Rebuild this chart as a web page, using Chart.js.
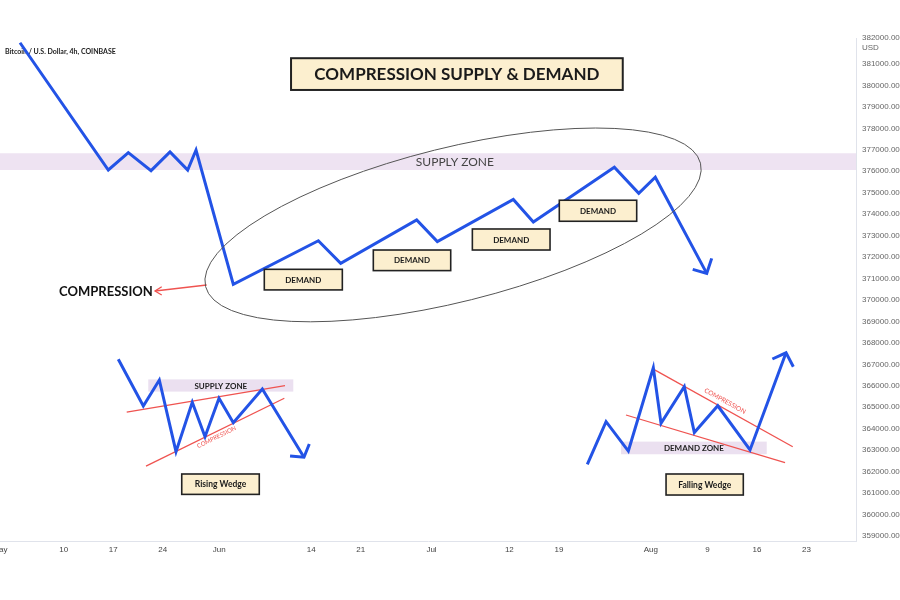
<!DOCTYPE html>
<html>
<head>
<meta charset="utf-8">
<style>
  html, body { margin: 0; padding: 0; background: #fff; overflow: hidden; }
  canvas { display: block; }
</style>
</head>
<body>
<canvas id="chart" width="900" height="600"></canvas>
<script src="https://cdn.jsdelivr.net/npm/chart.js"></script>
<script>
// x = days since 1 May, y = price
const xTickDays   = [0, 9, 16, 23, 31, 44, 51, 61, 72, 79, 92, 100, 107, 114];
const xTickLabels = ['May', '10', '17', '24', 'Jun', '14', '21', 'Jul', '12', '19', 'Aug', '9', '16', '23'];
const yTickValues = [359000, 360000, 361000, 362000, 363000, 364000, 365000, 366000, 367000, 368000, 369000, 370000,
  371000, 372000, 373000, 374000, 375000, 376000, 377000, 378000, 379000, 380000, 381000, 382000];

const mainDays   = [2.83, 15.31, 18.14, 21.35, 24.03, 26.53, 27.71, 32.98, 45.0, 48.16, 58.9, 61.82, 72.56, 75.39, 86.84, 90.29, 92.63, 99.9];
const mainPrices = [381990, 376060, 376870, 376030, 376900, 376060, 376990, 370730, 372760, 371710, 373730, 372720, 374690, 373640, 376190, 374970, 375720, 371240];
const mainHeadDays   = [97.92, 99.9, 100.6];
const mainHeadPrices = [371430, 371240, 371940];

const risingDays   = [16.72, 20.26, 22.52, 24.88, 27.18, 28.98, 30.96, 32.98, 37.08, 42.97];
const risingPrices = [367240, 365060, 366270, 362930, 365230, 363630, 365420, 364280, 365850, 362670];
const risingHeadDays   = [41.0, 42.97, 43.72];
const risingHeadPrices = [362730, 362670, 363290];
const risingUpperDays = [17.91, 40.29], risingUpperPrices = [364770, 366010];
const risingLowerDays = [20.64, 40.19], risingLowerPrices = [362260, 365420];

const fallingDays   = [83.02, 85.67, 88.82, 92.35, 93.44, 96.73, 98.15, 101.46, 106.02, 111.11];
const fallingPrices = [362340, 364330, 362960, 366840, 364250, 365960, 363820, 365070, 363010, 367540];
const fallingHeadDays   = [109.18, 111.11, 112.14];
const fallingHeadPrices = [367250, 367540, 366890];
const fallingUpperDays = [92.35, 112.06], fallingUpperPrices = [366780, 363160];
const fallingLowerDays = [88.49, 110.97], fallingLowerPrices = [364640, 362420];

const arrowDays   = [29.22, 21.91];
const arrowPrices = [370700, 370420];
const arrowHeadDays   = [22.86, 21.91, 22.86];
const arrowHeadPrices = [370620, 370420, 370230];

// zones: [day0, day1, priceTop, priceBottom, text]
const supplyZone  = [null, null, 376840, 376060, 'SUPPLY ZONE'];
const smallSupply = [20.96, 41.46, 366300, 365730, 'SUPPLY ZONE'];
const demandZone  = [87.79, 108.38, 363400, 362810, 'DEMAND ZONE'];

// label boxes: [day0, day1, priceTop, priceBottom, text]
const titleBox = [41.14, 88.03, 381270, 379790, 'COMPRESSION SUPPLY & DEMAND'];
const demandBoxes = [
  [37.36, 48.39, 371430, 370470, 'DEMAND'],
  [52.77, 63.71, 372330, 371370, 'DEMAND'],
  [66.77, 77.75, 373310, 372330, 'DEMAND'],
  [79.06, 90.0, 374650, 373670, 'DEMAND'],
];
const wedgeBoxes = [
  [25.69, 36.65, 361890, 360940, 'Rising Wedge'],
  [94.15, 105.07, 361890, 360910, 'Falling Wedge'],
];

// ellipse: center day, center price, radius in days, radius in price
const ellipseAt = [64.04, 373500, 36.05, 3589];

const pts = (xs, ys) => xs.map((x, i) => ({ x, y: ys[i] }));

const BLUE = '#2353e6', RED = '#ef5350';
const blue = (xs, ys) => ({ data: pts(xs, ys), borderColor: BLUE, borderWidth: 3, showLine: true, pointRadius: 0 });
const red = (xs, ys) => ({ data: pts(xs, ys), borderColor: RED, borderWidth: 1.3, showLine: true, pointRadius: 0 });

const drawings = {
  id: 'drawings',
  beforeDatasetsDraw(chart) {
    const { ctx, chartArea: a, scales: { x, y } } = chart;
    ctx.save();
    ctx.fillStyle = '#eee3f2';
    ctx.fillRect(a.left, y.getPixelForValue(supplyZone[2]), a.right - a.left,
      y.getPixelForValue(supplyZone[3]) - y.getPixelForValue(supplyZone[2]));
    ctx.fillStyle = '#444';
    ctx.font = '12px Lato';
    ctx.textAlign = 'center';
    ctx.textBaseline = 'middle';
    const sy = (y.getPixelForValue(supplyZone[2]) + y.getPixelForValue(supplyZone[3])) / 2;
    ctx.fillText(supplyZone[4], x.getPixelForValue(64.3), sy + 1);

    for (const z of [smallSupply, demandZone]) {
      const x0 = x.getPixelForValue(z[0]), x1 = x.getPixelForValue(z[1]);
      const y0 = y.getPixelForValue(z[2]), y1 = y.getPixelForValue(z[3]);
      ctx.fillStyle = '#ebe0f0';
      ctx.fillRect(x0, y0, x1 - x0, y1 - y0);
      ctx.fillStyle = '#222';
      ctx.font = 'bold 8px Lato';
      ctx.fillText(z[4], (x0 + x1) / 2, (y0 + y1) / 2 + 0.5);
    }

    ctx.textAlign = 'left';
    ctx.fillStyle = '#222';
    ctx.font = 'bold 7px Lato';
    ctx.fillText('Bitcoin / U.S. Dollar, 4h, COINBASE', a.left + 5, a.top + 14);
    ctx.restore();
  },
  afterDatasetsDraw(chart) {
    const { ctx, scales: { x, y } } = chart;
    ctx.save();
    // ellipse
    const cx = x.getPixelForValue(ellipseAt[0]), cy = y.getPixelForValue(ellipseAt[1]);
    const rx = x.getPixelForValue(ellipseAt[0] + ellipseAt[2]) - cx;
    const ry = cy - y.getPixelForValue(ellipseAt[1] + ellipseAt[3]);
    ctx.strokeStyle = '#555';
    ctx.lineWidth = 1;
    ctx.beginPath();
    ctx.ellipse(cx, cy, rx, ry, -14 * Math.PI / 180, 0, Math.PI * 2);
    ctx.stroke();

    const box = (b, font, lw) => {
      const x0 = x.getPixelForValue(b[0]), x1 = x.getPixelForValue(b[1]);
      const y0 = y.getPixelForValue(b[2]), y1 = y.getPixelForValue(b[3]);
      ctx.fillStyle = '#fcefcf';
      ctx.fillRect(x0, y0, x1 - x0, y1 - y0);
      ctx.strokeStyle = '#222';
      ctx.lineWidth = lw;
      ctx.strokeRect(x0, y0, x1 - x0, y1 - y0);
      ctx.fillStyle = '#1a1a1a';
      ctx.font = font;
      ctx.textAlign = 'center';
      ctx.textBaseline = 'middle';
      ctx.fillText(b[4], (x0 + x1) / 2, (y0 + y1) / 2 + 0.5);
    };
    box(titleBox, 'bold 17px Lato', 2);
    demandBoxes.forEach(b => box(b, 'bold 8px Lato', 1.6));
    wedgeBoxes.forEach(b => box(b, 'bold 8.5px Lato', 1.6));

    // labels
    ctx.fillStyle = '#111';
    ctx.font = 'bold 13px Lato';
    ctx.textAlign = 'center';
    ctx.textBaseline = 'middle';
    ctx.fillText('COMPRESSION', x.getPixelForValue(14.98), y.getPixelForValue(370373));

    const tilted = (day, price, lineDays, linePrices, size) => {
      const ang = Math.atan2(
        y.getPixelForValue(linePrices[1]) - y.getPixelForValue(linePrices[0]),
        x.getPixelForValue(lineDays[1]) - x.getPixelForValue(lineDays[0]));
      ctx.save();
      ctx.translate(x.getPixelForValue(day), y.getPixelForValue(price));
      ctx.rotate(ang);
      ctx.fillStyle = RED;
      ctx.font = size + 'px Lato';
      ctx.fillText('COMPRESSION', 0, 0);
      ctx.restore();
    };
    tilted(30.63, 363610, risingLowerDays, risingLowerPrices, 6);
    tilted(102.49, 365290, fallingUpperDays, fallingUpperPrices, 6.5);
    ctx.restore();
  }
};

new Chart(document.getElementById('chart'), {
  type: 'scatter',
  data: {
    datasets: [
      blue(mainDays, mainPrices),
      blue(mainHeadDays, mainHeadPrices),
      blue(risingDays, risingPrices),
      blue(risingHeadDays, risingHeadPrices),
      blue(fallingDays, fallingPrices),
      blue(fallingHeadDays, fallingHeadPrices),
      red(risingUpperDays, risingUpperPrices),
      red(risingLowerDays, risingLowerPrices),
      red(fallingUpperDays, fallingUpperPrices),
      red(fallingLowerDays, fallingLowerPrices),
      red(arrowDays, arrowPrices),
      red(arrowHeadDays, arrowHeadPrices),
    ],
  },
  options: {
    responsive: false,
    animation: false,
    devicePixelRatio: 1,
    layout: { padding: { top: 38, left: 0, right: 0, bottom: 0 } },
    plugins: { legend: { display: false }, tooltip: { enabled: false } },
    scales: {
      x: {
        type: 'linear',
        min: 0,
        max: 121,
        afterBuildTicks: s => { s.ticks = xTickDays.map(v => ({ value: v })); },
        afterFit: s => { s.height = 59; s.paddingLeft = 0; s.paddingRight = 0; },
        grid: { color: 'transparent', drawTicks: false },
        border: { color: '#e0e3eb' },
        ticks: {
          autoSkip: false,
          maxRotation: 0,
          padding: 4,
          color: '#444',
          font: { family: 'Liberation Sans', size: 8 },
          callback: v => xTickLabels[xTickDays.indexOf(v)],
        },
      },
      y: {
        position: 'right',
        min: 358767,
        max: 382212,
        afterBuildTicks: s => { s.ticks = yTickValues.map(v => ({ value: v })); },
        afterFit: s => { s.width = 44; },
        grid: { color: 'transparent', drawTicks: false },
        border: { color: '#e0e3eb' },
        ticks: {
          autoSkip: false,
          padding: 6,
          color: '#666',
          font: { family: 'Liberation Sans', size: 8 },
          callback: v => v === 382000 ? ['382000.00', 'USD'] : v.toFixed(2),
        },
      },
    },
  },
  plugins: [drawings],
});
</script>
</body>
</html>
